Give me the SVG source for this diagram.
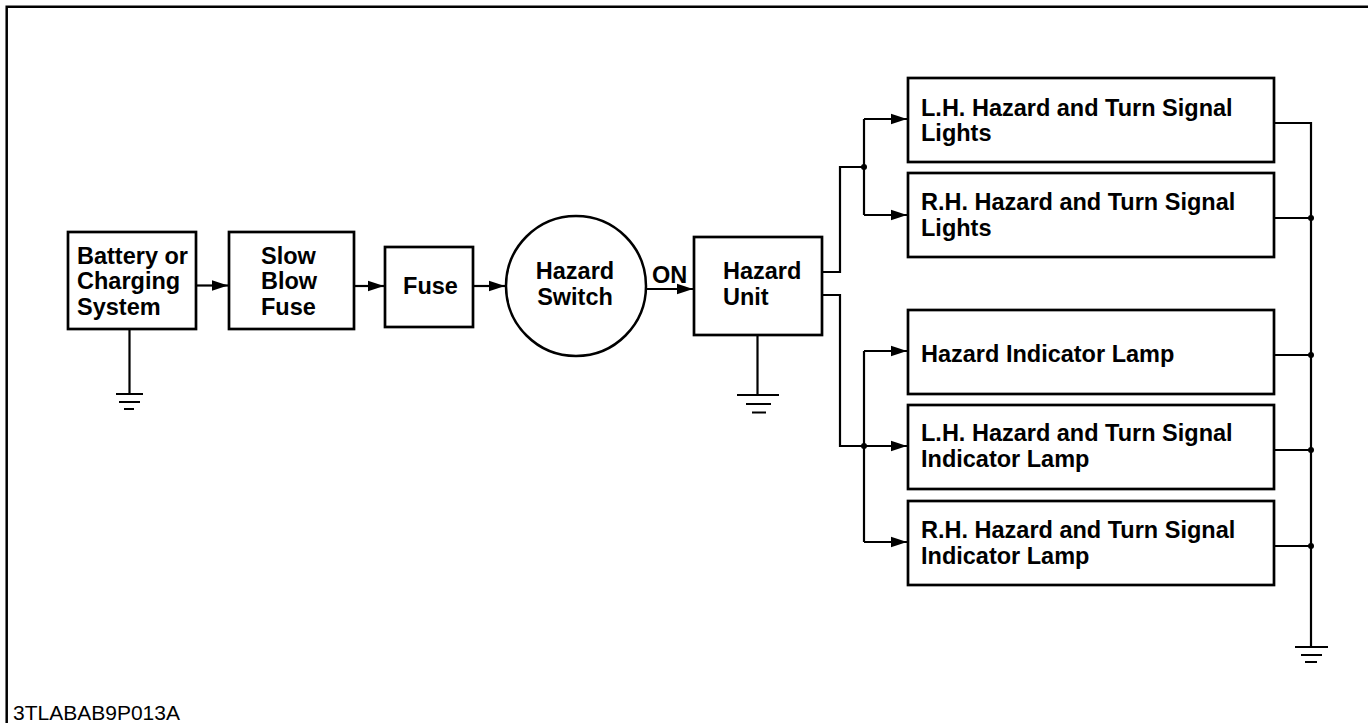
<svg xmlns="http://www.w3.org/2000/svg" width="1368" height="723" viewBox="0 0 1368 723">
<style>
.box{fill:#fff;stroke:#000;stroke-width:2.7}
.ln{fill:none;stroke:#000;stroke-width:2.2}
.t{font-family:"Liberation Sans",Arial,Helvetica,sans-serif;font-weight:bold;font-size:23.5px;fill:#000}
.c{text-anchor:middle}
.dot{fill:#000}
</style>
<defs>
<marker id="ah" markerUnits="userSpaceOnUse" markerWidth="16" markerHeight="12" viewBox="0 0 14 10" refX="14" refY="5" orient="auto">
<path d="M0,0.5 L14,5 L0,9.5 Z" fill="#000"/>
</marker>
</defs>
<rect width="1368" height="723" fill="#fff"/>
<path d="M6.7,723 V6.7 H1368" fill="none" stroke="#000" stroke-width="2.5"/>

<g id="battery">
<rect class="box" x="68" y="232" width="128" height="97"/>
<text class="t" x="77" y="264">Battery or</text>
<text class="t" x="77" y="289">Charging</text>
<text class="t" x="77" y="315">System</text>
</g>
<g id="slow-blow-fuse">
<rect class="box" x="229" y="232" width="125" height="97"/>
<text class="t" x="261" y="264">Slow</text>
<text class="t" x="261" y="289">Blow</text>
<text class="t" x="261" y="315">Fuse</text>
</g>
<g id="fuse">
<rect class="box" x="385" y="247" width="88" height="80"/>
<text class="t c" x="430.5" y="294">Fuse</text>
</g>
<g id="hazard-switch">
<circle cx="576" cy="286" r="70" fill="#fff" stroke="#000" stroke-width="2.5"/>
<text class="t c" x="575" y="279">Hazard</text>
<text class="t c" x="575" y="305">Switch</text>
</g>
<g id="hazard-unit">
<rect class="box" x="694" y="237" width="128" height="98"/>
<text class="t" x="723" y="279">Hazard</text>
<text class="t" x="723" y="305">Unit</text>
</g>
<g id="lh-lights">
<rect class="box" x="908" y="78" width="366" height="84"/>
<text class="t" x="921" y="116">L.H. Hazard and Turn Signal</text>
<text class="t" x="921" y="141">Lights</text>
</g>
<g id="rh-lights">
<rect class="box" x="908" y="173" width="366" height="84"/>
<text class="t" x="921" y="210">R.H. Hazard and Turn Signal</text>
<text class="t" x="921" y="236">Lights</text>
</g>
<g id="hazard-indicator">
<rect class="box" x="908" y="310" width="366" height="84"/>
<text class="t" x="921" y="362">Hazard Indicator Lamp</text>
</g>
<g id="lh-indicator">
<rect class="box" x="908" y="405" width="366" height="84"/>
<text class="t" x="921" y="441">L.H. Hazard and Turn Signal</text>
<text class="t" x="921" y="467">Indicator Lamp</text>
</g>
<g id="rh-indicator">
<rect class="box" x="908" y="501" width="366" height="84"/>
<text class="t" x="921" y="538">R.H. Hazard and Turn Signal</text>
<text class="t" x="921" y="564">Indicator Lamp</text>
</g>

<g id="connectors">
<path class="ln" d="M196,285.5 H228" marker-end="url(#ah)"/>
<path class="ln" d="M354,286 H384" marker-end="url(#ah)"/>
<path class="ln" d="M473,286 H505" marker-end="url(#ah)"/>
<path class="ln" d="M646,289 H693" marker-end="url(#ah)"/>
<text class="t" x="652" y="283">ON</text>
<path class="ln" d="M822,272 H840 V167 H864"/>
<path class="ln" d="M864,119 V215"/>
<path class="ln" d="M864,119 H907" marker-end="url(#ah)"/>
<path class="ln" d="M864,215 H907" marker-end="url(#ah)"/>
<circle class="dot" cx="864" cy="167" r="3"/>
<path class="ln" d="M822,295 H840 V446 H907" marker-end="url(#ah)"/>
<path class="ln" d="M864,351 V542"/>
<path class="ln" d="M864,351 H907" marker-end="url(#ah)"/>
<path class="ln" d="M864,542 H907" marker-end="url(#ah)"/>
<circle class="dot" cx="864" cy="446" r="3"/>
<path class="ln" d="M1274,123 H1311 V647"/>
<path class="ln" d="M1274,218 H1311 M1274,355 H1311 M1274,450 H1311 M1274,546 H1311"/>
<circle class="dot" cx="1311" cy="218" r="3"/>
<circle class="dot" cx="1311" cy="355" r="3"/>
<circle class="dot" cx="1311" cy="450" r="3"/>
<circle class="dot" cx="1311" cy="546" r="3"/>
<path class="ln" d="M129.5,329 V394 M116,394 H143 M119,402 H140 M124,409 H134"/>
<path class="ln" d="M757.5,335 V395 M737,395 H779 M746,404 H771 M752,412.5 H766"/>
<path class="ln" d="M1295,647 H1328 M1301,655 H1322 M1305,662 H1317"/>
</g>
<text x="13" y="720" font-family="'Liberation Sans',Arial,sans-serif" font-size="21" fill="#000">3TLABAB9P013A</text>
</svg>
